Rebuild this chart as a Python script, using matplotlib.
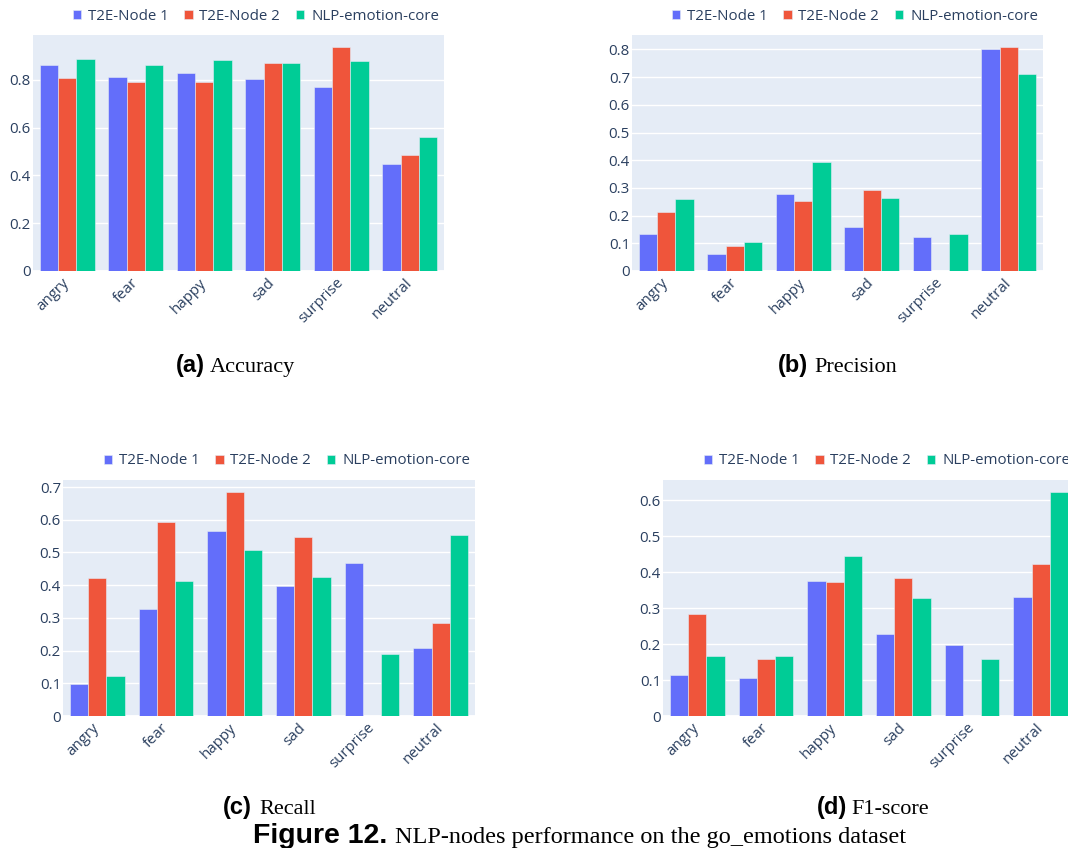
import matplotlib
matplotlib.use("Agg")
import matplotlib.pyplot as plt
import numpy as np

categories = ["angry", "fear", "happy", "sad", "surprise", "neutral"]
series_names = ["T2E-Node 1", "T2E-Node 2", "NLP-emotion-core"]

accuracy_node1 = [0.860, 0.810, 0.829, 0.801, 0.769, 0.446]
accuracy_node2 = [0.808, 0.789, 0.790, 0.868, 0.937, 0.486]
accuracy_core = [0.888, 0.860, 0.884, 0.870, 0.877, 0.560]

precision_node1 = [0.132, 0.060, 0.279, 0.159, 0.123, 0.800]
precision_node2 = [0.213, 0.090, 0.253, 0.291, 0.0, 0.808]
precision_core = [0.259, 0.103, 0.395, 0.263, 0.134, 0.711]

recall_node1 = [0.098, 0.327, 0.567, 0.398, 0.469, 0.208]
recall_node2 = [0.423, 0.594, 0.686, 0.548, 0.0, 0.285]
recall_core = [0.121, 0.414, 0.507, 0.425, 0.190, 0.553]

f1_node1 = [0.114, 0.105, 0.375, 0.229, 0.197, 0.331]
f1_node2 = [0.284, 0.159, 0.371, 0.382, 0.0, 0.422]
f1_core = [0.166, 0.168, 0.444, 0.328, 0.158, 0.623]

yticks_a = [0, 0.2, 0.4, 0.6, 0.8]
yticklabels_a = ["0", "0.2", "0.4", "0.6", "0.8"]
yticks_b = [0, 0.1, 0.2, 0.3, 0.4, 0.5, 0.6, 0.7, 0.8]
yticklabels_b = ["0", "0.1", "0.2", "0.3", "0.4", "0.5", "0.6", "0.7", "0.8"]
yticks_c = [0, 0.1, 0.2, 0.3, 0.4, 0.5, 0.6, 0.7]
yticklabels_c = ["0", "0.1", "0.2", "0.3", "0.4", "0.5", "0.6", "0.7"]
yticks_d = [0, 0.1, 0.2, 0.3, 0.4, 0.5, 0.6]
yticklabels_d = ["0", "0.1", "0.2", "0.3", "0.4", "0.5", "0.6"]

colors = ["#636EFA", "#EF553B", "#00CC96"]
BG = "#E5ECF6"
TXT = "#2a3f5f"

W, H = 1068, 848
fig = plt.figure(figsize=(W / 100, H / 100), dpi=100)
fig.patch.set_facecolor("white")

def rect(l, r, t, b):
    return [l / W, 1 - b / H, (r - l) / W, (b - t) / H]

panels = [
    (rect(33, 444, 35, 271), [accuracy_node1, accuracy_node2, accuracy_core], 0.987, yticks_a, yticklabels_a),
    (rect(632, 1043, 35, 271), [precision_node1, precision_node2, precision_core], 0.852, yticks_b, yticklabels_b),
    (rect(63, 475, 480, 716), [recall_node1, recall_node2, recall_core], 0.7215, yticks_c, yticklabels_c),
    (rect(663, 1075, 480, 716), [f1_node1, f1_node2, f1_core], 0.6556, yticks_d, yticklabels_d),
]

FONT = "Open Sans"
FS = 10.8
x = np.arange(len(categories))
bw = 0.8 / 3

for (r, series, ytop, yt, ytl) in panels:
    ax = fig.add_axes(r)
    ax.set_facecolor(BG)
    for s in ax.spines.values():
        s.set_visible(False)
    for i, (vals, c, name) in enumerate(zip(series, colors, series_names)):
        ax.bar(x + (i - 1) * bw, vals, width=bw, color=c, edgecolor=BG,
               linewidth=0.4, label=name, zorder=3)
    ax.set_xlim(-0.5, len(categories) - 0.5)
    ax.set_ylim(0, ytop)
    ax.set_yticks(yt)
    ax.set_yticklabels(ytl, fontfamily=FONT, fontsize=FS, color=TXT)
    ax.set_xticks(x)
    ax.set_xticklabels(categories, fontfamily=FONT, fontsize=FS, color=TXT,
                       rotation=45, ha="right", va="center", rotation_mode="anchor")
    ax.tick_params(axis="y", length=0, pad=1.5)
    ax.tick_params(axis="x", length=0, pad=7)
    ax.grid(axis="y", color="white", linewidth=1.0, zorder=1)
    ax.axhline(0, color="white", linewidth=2.0, zorder=2)
    ax.set_axisbelow(True)
    leg = ax.legend(loc="center right", bbox_to_anchor=(1 - 5 / 411, 1 + 19 / 236),
                    ncol=3, frameon=False, borderaxespad=0, borderpad=0,
                    handlelength=0.55, handleheight=0.55, handletextpad=0.45,
                    columnspacing=1.07, prop={"family": FONT, "size": FS})
    for t in leg.get_texts():
        t.set_color(TXT)

def caption(xsplit_l, xsplit_r, y, bold, normal, bsize, nsize):
    fig.text(xsplit_l / W, 1 - y / H, bold, ha="right", va="baseline",
             fontfamily="Liberation Sans", fontweight="bold", fontsize=bsize, color="black")
    fig.text(xsplit_r / W, 1 - y / H, normal, ha="left", va="baseline",
             fontfamily="Liberation Serif", fontsize=nsize, color="black")

caption(205, 210, 372, "(a)", "Accuracy", 17, 16)
caption(808, 814, 372, "(b)", "Precision", 17, 16)
caption(252, 259, 814, "(c)", "Recall", 17, 16)
caption(847, 851, 814, "(d)", "F1-score", 17, 16)
caption(387, 395, 843, "Figure 12.", "NLP-nodes performance on the go_emotions dataset", 20.5, 17.5)

fig.savefig("out.png", dpi=100)
